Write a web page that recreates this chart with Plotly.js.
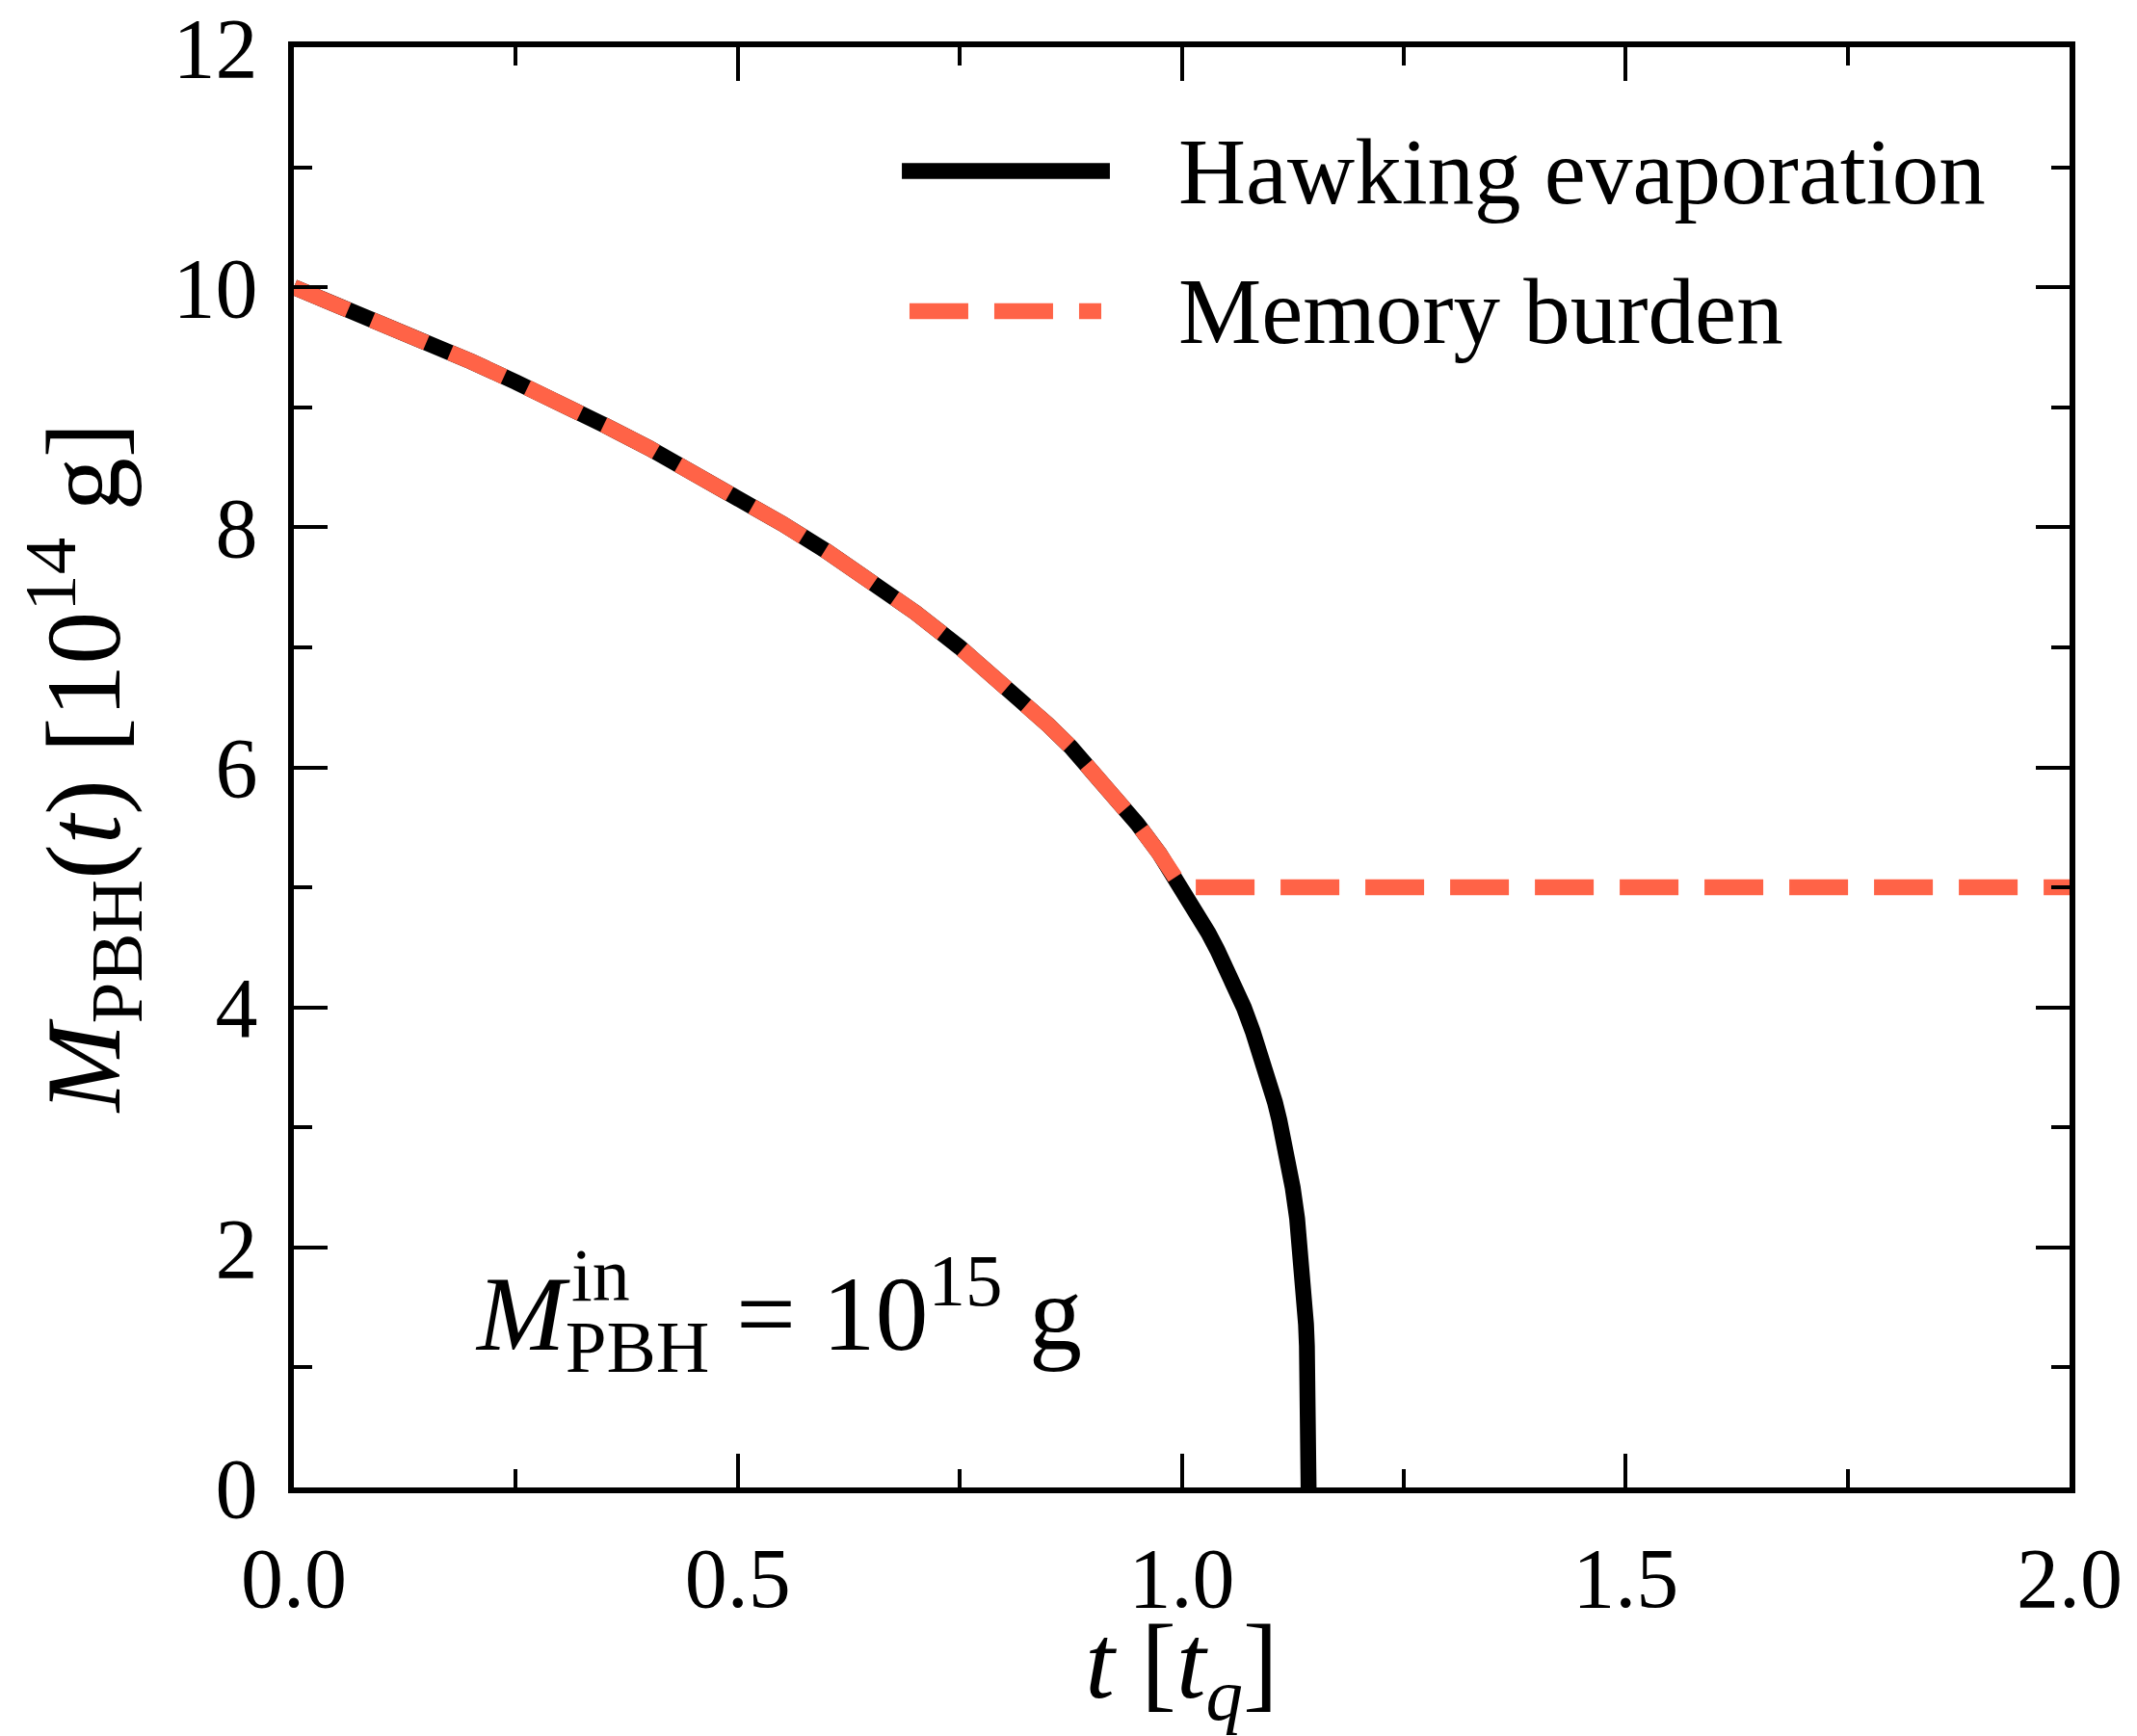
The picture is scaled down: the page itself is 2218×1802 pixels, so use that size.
<!DOCTYPE html>
<html>
<head>
<meta charset="utf-8">
<script src="https://cdn.plot.ly/plotly-3.0.1.min.js"></script>
<style>html,body{margin:0;padding:0;background:#fff;}#chart{width:2218px;height:1802px;}</style>
</head>
<body>
<div id="chart"></div>
<script>
// ---- data ----
const hawkingT = [0, 0.05, 0.1, 0.15, 0.2, 0.25, 0.3, 0.35, 0.4, 0.45, 0.5, 0.55, 0.6, 0.65, 0.7, 0.75, 0.8, 0.825, 0.85, 0.875, 0.9, 0.925, 0.95, 0.975, 1.0, 1.01, 1.02, 1.03, 1.04, 1.05, 1.06, 1.07, 1.08, 1.09, 1.1, 1.105, 1.11, 1.115, 1.12, 1.125, 1.13, 1.135, 1.138, 1.14, 1.141, 1.142, 1.1425, 1.1428, 1.1429];
const hawkingM = [10, 9.85, 9.70, 9.54, 9.38, 9.21, 9.04, 8.85, 8.66, 8.46, 8.25, 8.03, 7.80, 7.56, 7.29, 7.00, 6.69, 6.53, 6.35, 6.17, 5.97, 5.76, 5.53, 5.28, 5.00, 4.88, 4.75, 4.62, 4.48, 4.33, 4.17, 4.00, 3.80, 3.59, 3.35, 3.21, 3.06, 2.90, 2.71, 2.50, 2.24, 1.90, 1.62, 1.36, 1.18, 0.91, 0.68, 0.37, 0];
const memoryT = [0, 0.05, 0.1, 0.15, 0.2, 0.25, 0.3, 0.35, 0.4, 0.45, 0.5, 0.55, 0.6, 0.65, 0.7, 0.75, 0.8, 0.825, 0.85, 0.875, 0.9, 0.925, 0.95, 0.975, 1.0, 2.0];
const memoryM = [10, 9.85, 9.70, 9.54, 9.38, 9.21, 9.04, 8.85, 8.66, 8.46, 8.25, 8.03, 7.80, 7.56, 7.29, 7.00, 6.69, 6.53, 6.35, 6.17, 5.97, 5.76, 5.53, 5.28, 5.00, 5.00];
const seriesNames = ['Hawking evaporation', 'Memory burden'];
const xTickVals = [0, 0.5, 1.0, 1.5, 2.0];
const xTickText = ['0.0', '0.5', '1.0', '1.5', '2.0'];
const yTickVals = [0, 2, 4, 6, 8, 10, 12];
const yTickText = ['0', '2', '4', '6', '8', '10', '12'];

const FONT = 'Liberation Serif, Times New Roman, serif';
const BLACK = '#000000';
const TOMATO = '#ff6347';
const LW = 16.5;
const DASH = '61px,27px';

const traces = [
  {x: hawkingT, y: hawkingM, type: 'scatter', mode: 'lines', name: seriesNames[0],
   line: {color: BLACK, width: LW}, showlegend: false, hoverinfo: 'skip'},
  {x: memoryT, y: memoryM, type: 'scatter', mode: 'lines', name: seriesNames[1],
   line: {color: TOMATO, width: LW, dash: DASH}, showlegend: false, hoverinfo: 'skip'}
];

const axisCommon = {
  showline: true, linewidth: 6, linecolor: BLACK, mirror: 'allticks',
  ticks: 'inside', ticklen: 35, tickwidth: 4, tickcolor: BLACK,
  showgrid: false, zeroline: false,
  tickfont: {family: FONT, size: 88, color: BLACK}
};

const layout = {
  width: 2218, height: 1802,
  margin: {l: 305, r: 70, t: 49, b: 258, pad: 0},
  paper_bgcolor: '#ffffff', plot_bgcolor: '#ffffff',
  showlegend: false,
  xaxis: Object.assign({}, axisCommon, {
    range: [0, 2], tickmode: 'array', tickvals: xTickVals, ticktext: xTickText,
    ticklabelstandoff: 12,
    minor: {tickmode: 'linear', tick0: 0, dtick: 0.25, ticks: 'inside', ticklen: 19, tickwidth: 4, tickcolor: BLACK},
    title: {text: '<i>t</i> [<i>t</i><sub><i>q</i></sub>]', font: {family: FONT, size: 110, color: BLACK}, standoff: 52}
  }),
  yaxis: Object.assign({}, axisCommon, {
    range: [0, 12], tickmode: 'array', tickvals: yTickVals, ticktext: yTickText,
    ticklabelstandoff: 14,
    minor: {tickmode: 'linear', tick0: 0, dtick: 1, ticks: 'inside', ticklen: 19, tickwidth: 4, tickcolor: BLACK},
    title: {text: '<i>M</i><sub>PBH</sub>(<i>t</i>) [10<sup>14</sup> g]', font: {family: FONT, size: 110, color: BLACK}, standoff: 20}
  }),
  shapes: [
    {type: 'line', xref: 'x', yref: 'y', x0: 0.6848, x1: 0.9191, y0: 10.969, y1: 10.969,
     line: {color: BLACK, width: LW}},
    {type: 'line', xref: 'x', yref: 'y', x0: 0.6934, x1: 0.9094, y0: 9.801, y1: 9.801,
     line: {color: TOMATO, width: LW, dash: DASH}}
  ],
  annotations: [
    {xref: 'x', yref: 'y', x: 0.9935, y: 10.957, xanchor: 'left', yanchor: 'middle', showarrow: false,
     text: seriesNames[0], font: {family: FONT, size: 97, color: BLACK}},
    {xref: 'x', yref: 'y', x: 0.9935, y: 9.793, xanchor: 'left', yanchor: 'middle', showarrow: false,
     text: seriesNames[1], font: {family: FONT, size: 97, color: BLACK}},
    {xref: 'x', yref: 'y', x: 0.2018, y: 1.45, xanchor: 'left', yanchor: 'middle', showarrow: false,
     text: '<i>M</i><sub>PBH</sub> = 10<sup>15</sup> g', font: {family: FONT, size: 110, color: BLACK}},
    {xref: 'x', yref: 'y', x: 0.3104, y: 1.766, xanchor: 'left', yanchor: 'middle', showarrow: false,
     text: 'in', font: {family: FONT, size: 78, color: BLACK}}
  ]
};

Plotly.newPlot('chart', traces, layout, {displayModeBar: false, staticPlot: true});
</script>
</body>
</html>
